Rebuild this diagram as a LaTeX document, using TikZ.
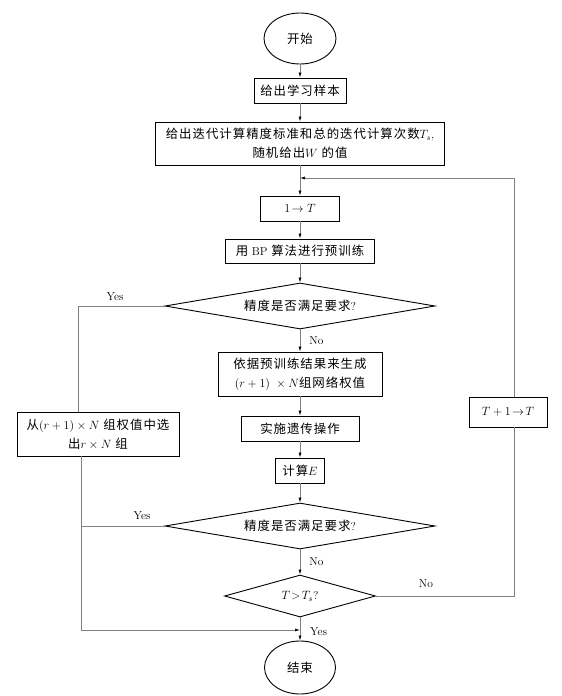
\documentclass[tikz,border=0pt]{standalone}
\usepackage{fontspec}
\newfontfamily\cjk[LetterSpace=8,Scale=1.08]{Noto Sans CJK SC}
\usetikzlibrary{shapes.geometric,arrows.meta}
\newcommand\myfs{\fontsize{11.5}{19}\selectfont}
\tikzset{
  box/.style={draw=black, line width=0.9pt, rectangle, inner sep=0pt, align=center, font=\myfs},
  ell/.style={draw=black, ellipse, line width=0.9pt, inner sep=0pt, font=\myfs},
  dia/.style={draw=black, diamond, line width=0.9pt, inner sep=0pt, font=\myfs},
  con/.style={draw=black!50, line width=0.7pt},
  arr/.style={con, -{Latex[length=5pt,width=3pt,color=black]}},
  lbl/.style={font=\myfs, inner sep=0pt}
}
\begin{document}
\begin{tikzpicture}[x=1pt,y=-1pt]
\path[use as bounding box] (0,0) rectangle (562,696);
% main column
\node[ell, minimum width=72pt, minimum height=51pt] (start) at (300,38.5) {{\cjk 开始}};
\node[box, minimum width=92pt, minimum height=25pt] (s1) at (300,90.5) {{\cjk 给出学习样本}};
\node[box, minimum width=289pt, minimum height=43pt] (s2) at (300,143.5)
  {{\cjk 给出迭代计算精度标准和总的迭代计算次数}$T_s$,\\{\cjk 随机给出}$W$ {\cjk 的值}};
\node[box, minimum width=79pt, minimum height=25pt] (s3) at (300,208.5) {$1\!\rightarrow T$};
\node[box, minimum width=149pt, minimum height=24pt] (s4) at (300,251) {{\cjk 用} BP {\cjk 算法进行预训练}};
\node[dia, shape aspect=5.8, minimum width=270pt, minimum height=46pt] (d1) at (300,306) {{\cjk 精度是否满足要求}?};
\node[box, minimum width=164pt, minimum height=44pt] (s5) at (300,374)
  {{\cjk 依据预训练结果来生成}\\$(r+1)\ \times N${\cjk 组网络权值}};
\node[box, minimum width=118pt, minimum height=25pt] (s6) at (300,428.5) {{\cjk 实施遗传操作}};
\node[box, minimum width=49pt, minimum height=25pt] (s7) at (300,470.5) {{\cjk 计算}$E$};
\node[dia, shape aspect=5.8, minimum width=270pt, minimum height=46pt] (d2) at (300,526) {{\cjk 精度是否满足要求}?};
\node[dia, shape aspect=3.6, minimum width=151pt, minimum height=42pt] (d3) at (300,596) {$T\!>\!T_s$?};
\node[ell, minimum width=71pt, minimum height=53pt] (end) at (300,667.5) {{\cjk 结束}};
% side boxes
\node[box, minimum width=162pt, minimum height=44pt] (lb) at (98,434)
  {{\cjk 从}$(r+1)\times N$ {\cjk 组权值中选}\\{\cjk 出}$r\times N$ {\cjk 组}};
\node[box, minimum width=78pt, minimum height=30pt] (rb) at (508,412) {$T+1\!\rightarrow\! T$};
% coordinates
\coordinate (j) at (300,178);
\coordinate (lt) at (78,306);
\coordinate (lb2) at (81,630);
\coordinate (m630) at (300,630);
\coordinate (rc1) at (514,596);
\coordinate (rc2) at (514,178);
% main connectors
\draw[arr] (start) -- (s1);
\draw[arr] (s1) -- (s2);
\draw[arr] (s2) -- (s3);
\draw[arr] (s3) -- (s4);
\draw[arr] (s4) -- (d1);
\draw[arr] (d1) -- node[lbl, right=9pt] (no1) {No} (s5);
\draw[arr] (s5) -- (s6);
\draw[arr] (s6) -- (s7);
\draw[arr] (s7) -- (d2);
\draw[arr] (d2) -- node[lbl, right=9pt] (no2) {No} (d3);
\draw[arr] (d3) -- (end);
\node[lbl, anchor=west] (yes3) at (310,632) {Yes};
% left branch
\draw[con] (d1.west) -- (lt) -- (lt |- lb.north);
\node[lbl] (yes1) at (115,297) {Yes};
\draw[arr] (lb.south -| lb2) -- (lb2) -- (m630);
\draw[con] (d2.west) -- (d2.west -| lb2);
\node[lbl] (yes2) at (142,516) {Yes};
% right branch
\draw[con] (d3.east) -- (rc1) -- (rc1 |- rb.south);
\draw[arr] (rc1 |- rb.north) -- (rc2) -- (j);
\node[lbl] (no3) at (426,584) {No};
\end{tikzpicture}
\end{document}
